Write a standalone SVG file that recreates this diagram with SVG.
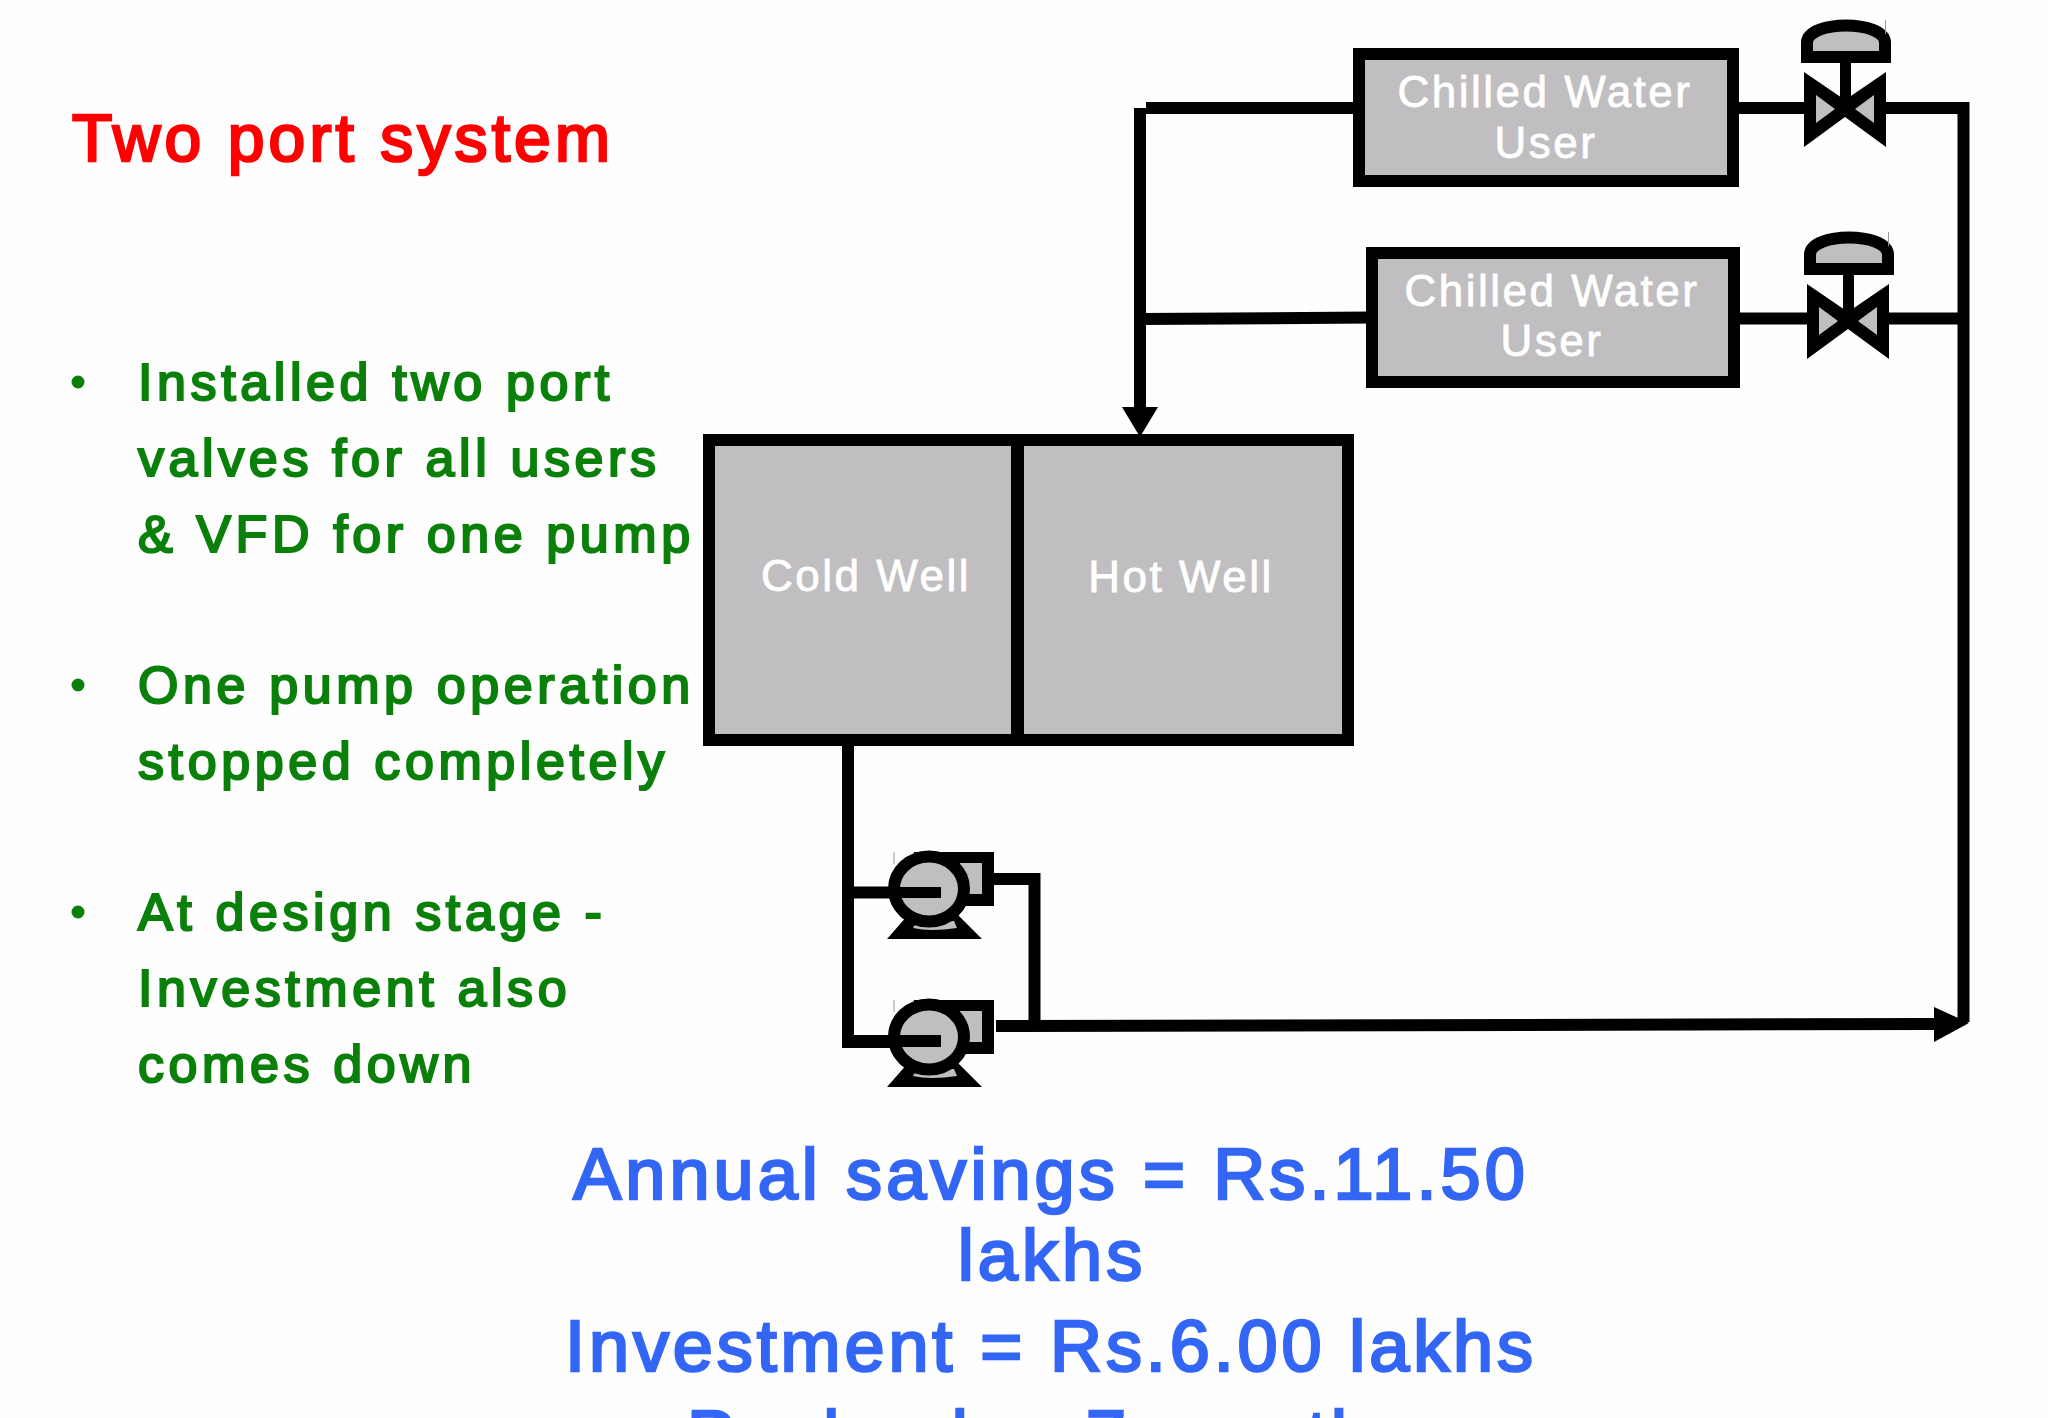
<svg xmlns="http://www.w3.org/2000/svg" xmlns:xlink="http://www.w3.org/1999/xlink" width="2048" height="1418" viewBox="0 0 2048 1418">
<style>
text{font-family:"Liberation Sans",Arial,sans-serif}
.title{font-size:66px;fill:#ff0000;letter-spacing:4.1px;stroke:#ff0000;stroke-width:2.600px}
.bul{font-size:52px;fill:#0a800a;letter-spacing:4.600px;stroke:#0a800a;stroke-width:2.200px}
.sum{font-size:72px;fill:#3366f5;text-anchor:middle;letter-spacing:4.1px;stroke:#3366f5;stroke-width:2.600px}
.lab{font-size:44px;fill:#fff;text-anchor:middle;letter-spacing:2.500px;stroke:#fff;stroke-width:.8px}
.box{fill:#c0bec0;stroke:#000;stroke-width:12}
.pipe{fill:none;stroke:#000;stroke-width:12}
.blk{fill:#000}
.gry{fill:#c0bec0}
.hair{stroke:#999;stroke-width:1;fill:none}
</style>
<defs>
<g id="valve">
<path class="gry" d="M1806 52V38Q1846 20 1886 38V52Z"/>
<path d="M1807 57V42C1809 20 1883 20 1885 42V57Z" fill="none" stroke="#000" stroke-width="12"/>
<rect class="blk" x="1840" y="60" width="11" height="40"/>
<path class="blk" d="M1804 72L1845 100L1886 72V147L1845 117L1804 147Z"/>
<path class="gry" d="M1816 95V123L1835 109ZM1874 95V123L1855 109Z"/>
<path class="hair" d="M1885.500 20V34"/>
</g>
<g id="pump">
<path class="blk" d="M914 852H994V906H914Z"/>
<path class="gry" d="M960 863H982V894H960Z"/>
<path class="blk" d="M887 939L908 915H958L982 939Z"/>
<path class="gry" d="M913 928Q930 932 957 928L954 921H917Z"/>
<ellipse cx="929" cy="889" rx="35" ry="32.500" fill="#c0bec0" stroke="#000" stroke-width="12"/>
<path class="hair" d="M894 852V864"/>
</g>
</defs>
<rect width="2048" height="1418" fill="#fefefe"/>
<g id="connectors">
<path class="pipe" d="M1146 108H1360M1140 108V410M1140 319L1372 317.500M1733 108H1810M1880 108H1963.500V1022M1734 318.500H1810M1880 318.500H1963M848 744V1042H940M848 892.500H940M994 879H1034.500V1026M996 1026L1940 1024"/>
<path class="blk" d="M1122 407H1158L1140 437Z"/>
<path class="blk" d="M1934 1007L1969 1023L1934 1042Z"/>
</g>
<g id="title"><text class="title" x="72" y="161">Two port system</text></g>
<g id="bullets">
<circle cx="78" cy="382" r="6.500" fill="#0a800a"/>
<text class="bul" x="138" y="400">Installed two port</text>
<text class="bul" x="138" y="476">valves for all users</text>
<text class="bul" x="138" y="552">&amp; VFD for one pump</text>
<circle cx="78" cy="685" r="6.500" fill="#0a800a"/>
<text class="bul" x="138" y="703">One pump operation</text>
<text class="bul" x="138" y="779">stopped completely</text>
<circle cx="78" cy="912" r="6.500" fill="#0a800a"/>
<text class="bul" x="138" y="930">At design stage -</text>
<text class="bul" x="138" y="1006">Investment also</text>
<text class="bul" x="138" y="1082">comes down</text>
</g>
<g id="cold-well"><rect class="box" x="709" y="440" width="308" height="300"/><text class="lab" x="866" y="591">Cold Well</text></g>
<g id="hot-well"><rect class="box" x="1018" y="440" width="330" height="300"/><text class="lab" x="1181" y="592">Hot Well</text></g>
<g id="user-1"><rect class="box" x="1359" y="54" width="374" height="127"/><text class="lab" x="1545" y="107">Chilled Water</text><text class="lab" x="1546" y="158">User</text></g>
<g id="user-2"><rect class="box" x="1372" y="253" width="362" height="129"/><text class="lab" x="1552" y="306">Chilled Water</text><text class="lab" x="1552" y="356">User</text></g>
<g id="valve-1"><use xlink:href="#valve" href="#valve"/></g>
<g id="valve-2"><use xlink:href="#valve" href="#valve" x="3" y="212"/></g>
<g id="pump-1"><use xlink:href="#pump" href="#pump"/><rect class="blk" x="848" y="887" width="93" height="11"/></g>
<g id="pump-2"><use xlink:href="#pump" href="#pump" y="148"/><rect class="blk" x="848" y="1035" width="93" height="12"/></g>
<g id="summary">
<text class="sum" x="1051" y="1199">Annual savings = Rs.11.50</text>
<text class="sum" x="1052" y="1280">lakhs</text>
<text class="sum" x="1051" y="1371" style="letter-spacing:3.900px">Investment = Rs.6.00 lakhs</text>
<text class="sum" x="1051" y="1461">Payback = 7 months</text>
</g>
</svg>
